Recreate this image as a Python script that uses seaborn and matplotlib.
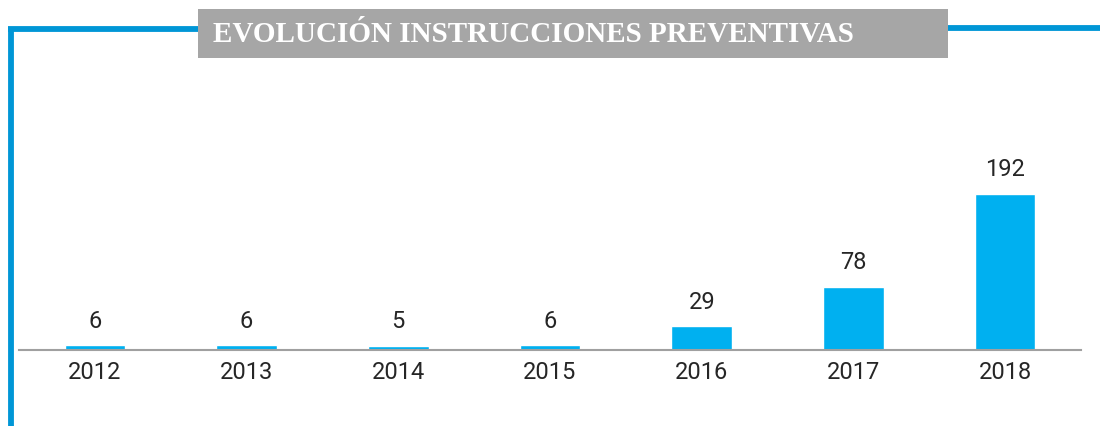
import matplotlib
matplotlib.use("Agg")
import matplotlib.pyplot as plt
from matplotlib.patches import Rectangle
from matplotlib.lines import Line2D
import seaborn as sns

# data
years = ["2012", "2013", "2014", "2015", "2016", "2017", "2018"]
values = [6, 6, 5, 6, 29, 78, 192]
title = "EVOLUCIÓN INSTRUCCIONES PREVENTIVAS"

W, H = 1100, 426
sns.set_theme(style="white")
plt.rcParams['font.family'] = ['Roboto', 'DejaVu Sans']

fig = plt.figure(figsize=(W / 100, H / 100), dpi=100)

def fx(px):
    return px / W

def fy(py):
    return 1 - py / H

# axes: baseline at y=350, spans x 19..1081
ax = fig.add_axes([fx(19), fy(350), fx(1081) - fx(19), fy(100) - fy(350)])
sns.barplot(x=years, y=values, color="#00B0F0", width=0.4, saturation=1, ax=ax)
ax.set_xlim(-0.5, 6.5)
ax.set_ylim(0, 250 / 0.8125)
ax.bar_label(ax.containers[0], padding=9, fontsize=17, color="#262626")
ax.set_xlabel("")
ax.set_ylabel("")
ax.set_yticks([])
ax.tick_params(axis="x", length=0, pad=8, labelsize=17, labelcolor="#262626")
for side in ["top", "right", "left"]:
    ax.spines[side].set_visible(False)
ax.spines["bottom"].set_color("#A0A0A0")
ax.spines["bottom"].set_linewidth(1.5)
ax.set_facecolor("none")

# blue frame
blue = "#0096D6"
fig.add_artist(Line2D([fx(8), fx(198)], [fy(28.5), fy(28.5)], color=blue, lw=4.2,
                      solid_capstyle="butt"))
fig.add_artist(Line2D([fx(10.5), fx(10.5)], [fy(26.5), fy(426)], color=blue, lw=4.2,
                      solid_capstyle="butt"))
fig.add_artist(Line2D([fx(948), fx(1100)], [fy(28), fy(28)], color=blue, lw=4.2,
                      solid_capstyle="butt"))

# title box
fig.add_artist(Rectangle((fx(198), fy(58)), fx(948) - fx(198), fy(9) - fy(58),
                         facecolor="#A6A6A6", edgecolor="none"))
fig.text(fx(213), fy(42.5), title, color="white", fontsize=21, fontweight="bold",
         family=["Liberation Serif", "DejaVu Serif"], ha="left", va="baseline")

fig.savefig("out.png", dpi=100)
